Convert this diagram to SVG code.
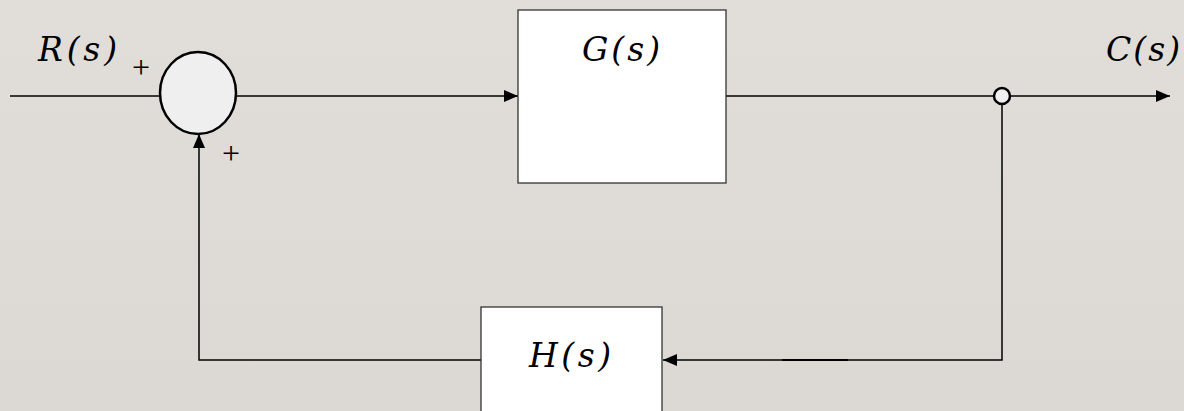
<svg xmlns="http://www.w3.org/2000/svg" width="1184" height="411" viewBox="0 0 1184 411">
  <defs>
    <marker id="arrow" viewBox="0 0 14 12" refX="14" refY="6" markerWidth="14" markerHeight="12" markerUnits="userSpaceOnUse" orient="auto">
      <path d="M0,0 L14,6 L0,12 Z" fill="#000"/>
    </marker>
    <linearGradient id="bg" x1="0" y1="0" x2="0" y2="1">
      <stop offset="0" stop-color="#e1ded9"/>
      <stop offset="1" stop-color="#dcd9d4"/>
    </linearGradient>
  </defs>
  <style>
    .wire { fill: none; stroke: #000; stroke-width: 1.5; }
    .block { fill: #fff; stroke: #333; stroke-width: 1.3; }
    .math { font-family: "DejaVu Serif", "Liberation Serif", serif; font-style: italic; font-size: 33px; fill: #000; }
    .sign { font-family: "Liberation Serif", serif; font-size: 32px; fill: #000; }
  </style>

  <rect width="1184" height="411" fill="url(#bg)"/>

  <!-- signal lines -->
  <g id="connectors">
    <line class="wire" x1="10" y1="96" x2="160" y2="96"/>
    <line class="wire" x1="236" y1="96" x2="518" y2="96" marker-end="url(#arrow)"/>
    <line class="wire" x1="726" y1="96" x2="994" y2="96"/>
    <line class="wire" x1="1010" y1="96" x2="1170" y2="96" marker-end="url(#arrow)"/>
    <polyline class="wire" points="1002,104 1002,360 663,360" marker-end="url(#arrow)"/>
    <line x1="782" y1="360" x2="848" y2="360" stroke="#000" stroke-width="2.2"/>
    <polyline class="wire" points="481,360 199,360 199,134" marker-end="url(#arrow)"/>
  </g>

  <!-- summing junction -->
  <g id="sum">
    <ellipse cx="198" cy="93" rx="38" ry="41" fill="#efefef" stroke="#000" stroke-width="2.5"/>
    <text class="sign" x="141" y="78" text-anchor="middle">+</text>
    <text class="sign" x="231" y="164" text-anchor="middle">+</text>
  </g>

  <!-- input label -->
  <g id="input">
    <text class="math" x="38" y="61" textLength="79" lengthAdjust="spacing">R(s)</text>
  </g>

  <!-- forward block -->
  <g id="G">
    <rect class="block" x="518" y="10" width="208" height="173"/>
    <text class="math" x="582" y="61" textLength="78" lengthAdjust="spacing">G(s)</text>
  </g>

  <!-- take-off point -->
  <g id="takeoff">
    <circle cx="1002" cy="96" r="8" fill="#f0f0f0" stroke="#000" stroke-width="2.5"/>
  </g>

  <!-- output label -->
  <g id="output">
    <text class="math" x="1106" y="61" textLength="74" lengthAdjust="spacing">C(s)</text>
  </g>

  <!-- feedback block -->
  <g id="H">
    <rect class="block" x="481" y="307" width="181" height="110"/>
    <text class="math" x="529" y="367" textLength="82" lengthAdjust="spacing">H(s)</text>
  </g>
</svg>
